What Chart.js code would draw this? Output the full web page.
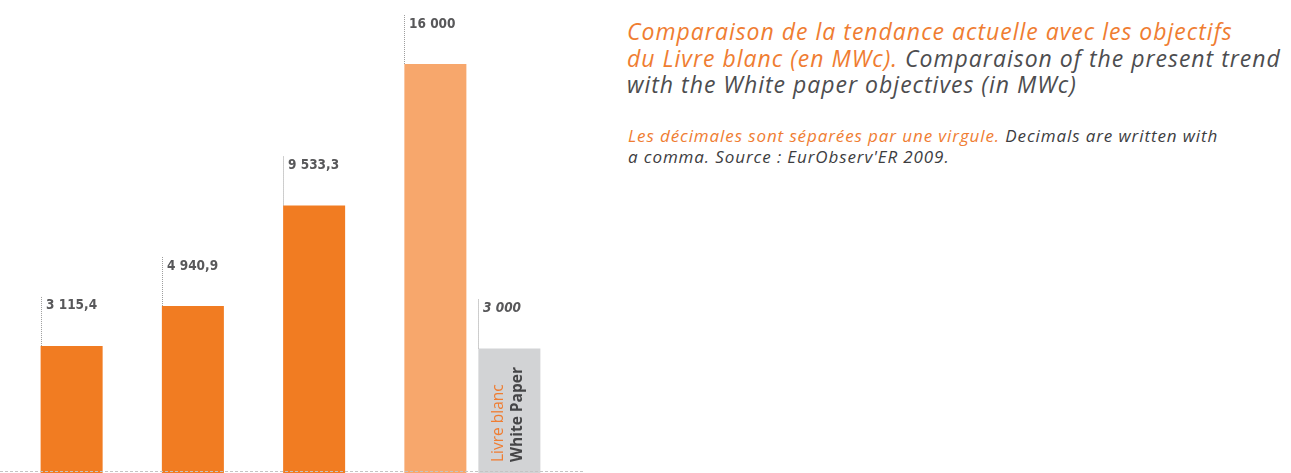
<!DOCTYPE html>
<html>
<head>
<meta charset="utf-8">
<script src="https://cdn.jsdelivr.net/npm/chart.js@4/dist/chart.umd.min.js"></script>
<style>
  body { margin: 0; background: #fff; width: 1291px; height: 473px; overflow: hidden; }
  #wrap { position: absolute; left: 0; top: 0; width: 600px; height: 473px; }
  #title {
    position: absolute; left: 627px; top: 18px;
    font-family: "Open Sans", sans-serif; font-style: italic; font-weight: 500;
    font-size: 23px; letter-spacing: 1px; line-height: 26.5px; white-space: nowrap; color: #4d4d4f;
  }
  #note {
    position: absolute; left: 628px; top: 125px;
    font-family: "Open Sans", sans-serif; font-style: italic;
    font-size: 17px; letter-spacing: 0.9px; line-height: 21px; white-space: nowrap; color: #3d3d3f;
  }
  .fr { color: #ef7d32; }
  .src { font-weight: 500; }
</style>
</head>
<body>
<div id="wrap"><canvas id="charts"></canvas></div>
<div id="title"><span class="fr">Comparaison de la tendance actuelle avec les objectifs<br>du Livre blanc (en MWc).</span> Comparaison of the present trend<br>with the White paper objectives (in MWc)</div>
<div id="note"><span class="fr">Les décimales sont séparées par une virgule.</span> Decimals are written with<br>a comma. <span class="src">Source : EurObserv'ER 2009.</span></div>
<script>
// years of the original chart (axis labels are cut off in the picture)
const years = ['2006', '2007', '2008', '2010'];
// installed capacity, MWc (last one = present trend for 2010)
const trendValues = [3115.4, 4940.9, 9533.3, 16000];
// White paper objective for 2010
const whitePaperValues = [null, null, null, 3000];
const whitePaperText = ['Livre blanc', 'White Paper'];

const Y_MIN = -2690;

function formatFr(v) {
  const parts = v.toFixed(v % 1 ? 1 : 0).split('.');
  let s = parts[0].replace(/\B(?=(\d{3})+(?!\d))/g, ' ');
  if (parts[1]) {
    s += ',' + parts[1];
  }
  return s;
}

const barLabels = {
  id: 'barLabels',
  afterDatasetsDraw(chart) {
    const ctx = chart.ctx;
    ctx.save();

    // dotted base line
    ctx.strokeStyle = '#c4c4c4';
    ctx.lineWidth = 1;
    ctx.setLineDash([3, 2]);
    ctx.beginPath();
    ctx.moveTo(0, 471.5);
    ctx.lineTo(585, 471.5);
    ctx.stroke();

    chart.data.datasets.forEach((ds, di) => {
      const meta = chart.getDatasetMeta(di);
      meta.data.forEach((bar, i) => {
        const v = ds.data[i];
        if (v == null) {
          return;
        }
        const left = Math.round(bar.x - bar.width / 2);

        ctx.strokeStyle = '#9d9d9d';
        ctx.setLineDash([1, 1]);
        ctx.beginPath();
        ctx.moveTo(left + 0.5, bar.y - 49);
        ctx.lineTo(left + 0.5, bar.y);
        ctx.stroke();
        ctx.setLineDash([]);

        ctx.fillStyle = '#58585a';
        ctx.font = (di == 1 ? 'italic ' : '') + 'bold 13.5px "DejaVu Sans Condensed"';
        ctx.textBaseline = 'middle';
        ctx.textAlign = 'left';
        ctx.fillText(formatFr(v), left + 5, bar.y - 40);

        if (di == 1) {
          ctx.save();
          ctx.translate(bar.x, bar.base - 11);
          ctx.rotate(-Math.PI / 2);
          ctx.font = '500 15.5px "Open Sans"';
          ctx.fillStyle = '#ef7d32';
          ctx.fillText(whitePaperText[0], 0, -11);
          ctx.font = 'bold 15.5px "Open Sans"';
          ctx.fillStyle = '#454547';
          ctx.fillText(whitePaperText[1], 0, 8);
          ctx.restore();
        }
      });
    });
    ctx.restore();
  }
};

const currentChart = new Chart(
  document.getElementById('charts'),
  {
    type: 'bar',
    data: {
      labels: years,
      datasets: [
        {
          label: 'Tendance actuelle',
          data: trendValues,
          base: Y_MIN,
          backgroundColor: ['#f17c22', '#f17c22', '#f17c22', '#f7a76c'],
          categoryPercentage: 1.2206,
          barPercentage: 0.838,
          clip: false
        },
        {
          label: 'Livre blanc',
          data: whitePaperValues,
          base: Y_MIN,
          backgroundColor: '#d2d3d5',
          categoryPercentage: 1.2206,
          barPercentage: 0.838,
          clip: false
        }
      ]
    },
    options: {
      maintainAspectRatio: false,
      animation: false,
      layout: {
        padding: { left: 48, right: 67, top: 0, bottom: 0 }
      },
      scales: {
        x: { display: false },
        y: { display: false, min: Y_MIN, max: 18925 }
      },
      plugins: {
        legend: { display: false },
        tooltip: { enabled: false }
      }
    },
    plugins: [barLabels]
  }
);
</script>
</body>
</html>
